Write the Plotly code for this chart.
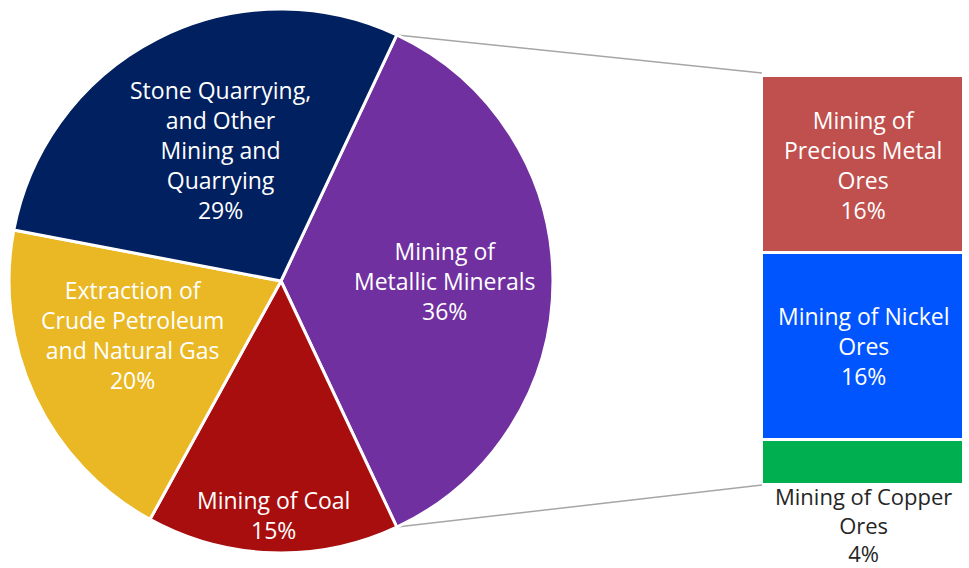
import math
import plotly.graph_objects as go

# ---- data ----
pie_labels = ["Mining of<br>Metallic Minerals", "Mining of Coal",
              "Extraction of<br>Crude Petroleum<br>and Natural Gas",
              "Stone Quarrying,<br>and Other<br>Mining and<br>Quarrying"]
pie_values = [36, 15, 20, 29]
pie_colors = ["#7030A0", "#A80E0E", "#E9B824", "#002060"]

bar_labels = ["Mining of Copper<br>Ores", "Mining of Nickel<br>Ores", "Mining of<br>Precious Metal<br>Ores"]
bar_values = [4.0, 16.4, 15.6]
bar_pct_text = ["4%", "16%", "16%"]
bar_colors = ["#00B050", "#0055FF", "#C0504D"]

# ---- layout / style ----
W, H = 969, 568
FONT = "Open Sans"
FS = 23
pie_cx_px, pie_cy_px, pie_r_px = 281, 281, 272
label_rfrac = [0.6, 0.86, 0.58, 0.53]
label_ang_off = [0, 0, 5, 2]

total_pie = sum(pie_values)
split_share = pie_values[0] / total_pie
rotation = 90 - split_share * 180

fig = go.Figure()
fig.add_trace(go.Pie(
    values=pie_values, labels=[l.replace("<br>", " ") for l in pie_labels],
    marker=dict(colors=pie_colors, line=dict(color="white", width=3)),
    sort=False, direction="clockwise", rotation=rotation,
    textinfo="none", hoverinfo="label+percent", showlegend=False,
    domain=dict(x=[(pie_cx_px - pie_r_px) / W, (pie_cx_px + pie_r_px) / W],
                y=[1 - (pie_cy_px + pie_r_px) / H, 1 - (pie_cy_px - pie_r_px) / H]),
))

bar_total = sum(bar_values)
for lab, val, col in zip(bar_labels, bar_values, bar_colors):
    fig.add_trace(go.Bar(
        x=["split"], y=[val], marker=dict(color=col, line=dict(color="white", width=3)),
        xaxis="x", yaxis="y", showlegend=False, name=lab.replace("<br>", " "),
        hoverinfo="name+y",
    ))

annotations = []
# pie labels
cum = 0.0
for lab, val, rf, off in zip(pie_labels, pie_values, label_rfrac, label_ang_off):
    mid = rotation + (cum + val / 2) / total_pie * 360 + off
    cum += val
    a = math.radians(mid)
    px = pie_cx_px + rf * pie_r_px * math.sin(a)
    py = pie_cy_px - rf * pie_r_px * math.cos(a)
    annotations.append(dict(
        x=px / W, y=1 - py / H, xref="paper", yref="paper",
        text=f"{lab}<br>{round(val / total_pie * 100)}%", showarrow=False,
        font=dict(family=FONT, size=FS, color="white"), align="center",
        xanchor="center", yanchor="middle"))

# bar labels
cum = 0.0
for i, (lab, val, pct) in enumerate(zip(bar_labels, bar_values, bar_pct_text)):
    if i == 0:
        annotations.append(dict(
            x=0, y=0, xref="x", yref="y", text=f"{lab}<br>{pct}", showarrow=False,
            font=dict(family=FONT, size=FS - 1, color="#262626"), align="center",
            xanchor="center", yanchor="top", yshift=5, borderpad=0))
    else:
        annotations.append(dict(
            x=0, y=cum + val / 2, xref="x", yref="y", text=f"{lab}<br>{pct}", showarrow=False,
            font=dict(family=FONT, size=FS, color="white"), align="center",
            xanchor="center", yanchor="middle"))
    cum += val

# connector lines from split slice edges to bar corners
a1 = math.radians(rotation)
a2 = math.radians(rotation + split_share * 360)
bar_x0, bar_x1 = 762 / W, 964 / W
bar_y0, bar_y1 = 1 - 485 / H, 1 - 76 / H
shapes = []
for a, yv in [(a1, bar_y1 + 3 / H), (a2, bar_y0)]:
    sx = (pie_cx_px + pie_r_px * math.sin(a)) / W
    sy = 1 - (pie_cy_px - pie_r_px * math.cos(a)) / H
    shapes.append(dict(type="line", xref="paper", yref="paper", x0=sx, y0=sy,
                       x1=bar_x0, y1=yv, line=dict(color="#A6A6A6", width=1.5),
                       layer="below"))

fig.update_layout(
    width=W, height=H, margin=dict(l=0, r=0, t=0, b=0),
    paper_bgcolor="white", plot_bgcolor="rgba(0,0,0,0)",
    barmode="stack", bargap=0,
    xaxis=dict(domain=[bar_x0, bar_x1], range=[-0.5, 0.5], visible=False, fixedrange=True),
    yaxis=dict(domain=[bar_y0, bar_y1], range=[0, bar_total], visible=False, fixedrange=True),
    annotations=annotations, shapes=shapes,
)

fig.write_html("out.html")
